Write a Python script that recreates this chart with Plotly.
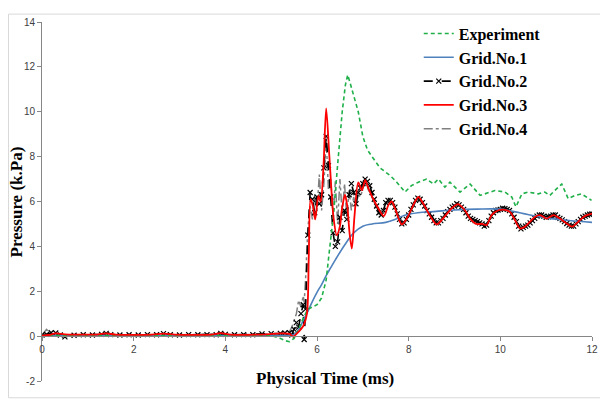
import plotly.graph_objects as go

# ---------------- data ----------------
t_exp = [0, 0.5, 1, 1.5, 2, 2.5, 3, 3.5, 4, 4.5, 5.0, 5.2, 5.3, 5.4, 5.5, 5.6, 5.7, 5.8, 5.9, 6.0,
         6.1, 6.2, 6.27, 6.36, 6.44, 6.55, 6.62, 6.67, 6.72, 6.8, 6.9, 7.0, 7.1, 7.2, 7.375, 7.6,
         7.74, 7.92, 8.06, 8.21, 8.39, 8.54, 8.65, 8.79, 8.9, 9.12, 9.34, 9.56, 9.67, 9.88, 10.1,
         10.25, 10.34, 10.47, 10.61, 10.83, 10.97, 11.08, 11.19, 11.34, 11.48, 11.63, 11.77, 11.99]
p_exp = [0.03, 0.03, 0.03, 0.03, 0.03, 0.03, 0.03, 0.03, 0.03, 0.03, 0.03, -0.1, -0.2, -0.25, -0.1,
         0.3, 0.8, 1.2, 1.3, 1.4, 1.7, 2.5, 3.8, 5.4, 7.4, 10.0, 11.2, 11.64, 11.3, 10.7, 10.0, 8.9,
         8.3, 8.0, 7.5, 7.15, 6.86, 6.42, 6.71, 6.86, 7.0, 6.78, 7.0, 6.64, 6.86, 6.42, 6.78, 6.27,
         6.34, 6.49, 6.42, 6.2, 5.76, 6.34, 6.42, 6.34, 6.42, 6.27, 6.49, 6.78, 6.13, 6.27, 6.34, 6.05]

t_g1 = [0, 1, 2, 3, 4, 5, 5.4, 5.5, 5.6, 5.7, 5.8, 5.9, 6.0, 6.1, 6.2, 6.3, 6.4, 6.6, 6.8, 7.0,
        7.2, 7.5, 7.7, 7.9, 8.2, 8.6, 9.0, 9.5, 10.0, 10.3, 10.6, 11.0, 11.5, 12.0]
p_g1 = [0.03, 0.03, 0.03, 0.03, 0.03, 0.03, 0.03, 0.08, 0.3, 0.7, 1.1, 1.55, 1.95, 2.3, 2.7, 3.05,
        3.4, 4.05, 4.6, 4.9, 5.0, 5.07, 5.2, 5.38, 5.5, 5.56, 5.62, 5.66, 5.66, 5.55, 5.42, 5.27,
        5.15, 5.07]

t_g2 = [0.0, 0.1, 0.2, 0.3, 0.4, 0.5, 0.7, 0.9, 1.1, 1.3, 1.4, 1.5, 1.7, 1.9, 2.1, 2.3, 2.5,
        2.65, 2.8, 3.0, 3.2, 3.4, 3.6, 3.8, 3.9, 4.0, 4.2, 4.4, 4.6, 4.8, 5.0, 5.2,
        5.3, 5.4, 5.45, 5.5, 5.55, 5.6, 5.65, 5.7, 5.72, 5.75, 5.8, 5.85, 5.9, 5.95, 6.0, 6.05,
        6.1, 6.15, 6.2, 6.25, 6.3, 6.35, 6.4, 6.45, 6.5, 6.55, 6.6, 6.65, 6.7, 6.75, 6.8, 6.85,
        6.9, 6.95, 7.0, 7.05, 7.1, 7.15, 7.2, 7.25, 7.3, 7.35, 7.4, 7.45, 7.5,
        7.55, 7.6, 7.65, 7.7, 7.75, 7.8, 7.85, 7.9, 7.95, 8.0, 8.05, 8.1, 8.15, 8.2, 8.25, 8.3,
        8.35, 8.4, 8.45, 8.5, 8.55, 8.6, 8.65, 8.7, 8.75, 8.8, 8.85, 8.9, 8.95, 9.0, 9.05, 9.1,
        9.15, 9.2, 9.25, 9.3, 9.35, 9.4, 9.45, 9.5, 9.55, 9.6, 9.65, 9.7, 9.75, 9.8, 9.85, 9.9,
        9.95, 10.0, 10.05, 10.1, 10.15, 10.2, 10.25, 10.3, 10.35, 10.4, 10.45, 10.5, 10.55, 10.6,
        10.65, 10.7, 10.75, 10.8, 10.85, 10.9, 10.95, 11.0, 11.05, 11.1, 11.15, 11.2, 11.25, 11.3,
        11.35, 11.4, 11.45, 11.5, 11.55, 11.6, 11.65, 11.7, 11.75, 11.8, 11.85, 11.9, 11.95, 12.0]
p_g2 = [0.05, 0.08, 0.15, 0.14, 0.05, -0.03, 0.04, 0.06, 0.05, 0.08, 0.12, 0.07, 0.05, 0.06,
        0.05, 0.07, 0.06, 0.11, 0.06, 0.05, 0.07, 0.06, 0.07, 0.06, 0.12, 0.08, 0.06, 0.07, 0.06,
        0.1, 0.11, 0.12,
        0.14, 0.15, 0.05, 0.3, 0.6, 0.4, 1.0, 1.4, -0.15, 1.2, 4.5, 6.4, 6.1, 5.5, 6.2, 5.9,
        6.3, 7.5, 8.9, 7.6, 6.2, 4.6, 4.0, 4.2, 5.3, 4.7, 5.6, 5.2, 6.3, 6.8, 6.4, 5.9,
        6.4, 6.6, 6.8, 7.0, 6.9, 6.7, 6.4, 6.1, 5.8, 5.5, 5.4, 5.6, 5.95,
        6.05, 6.05, 5.95, 5.75, 5.45, 5.2, 5.0, 5.05, 5.2, 5.4, 5.65, 5.85, 6.05, 6.15, 6.1, 5.95,
        5.8, 5.6, 5.45, 5.3, 5.15, 5.05, 5.05, 5.15, 5.25, 5.4, 5.55, 5.65, 5.75, 5.8, 5.9, 5.85,
        5.75, 5.65, 5.5, 5.35, 5.25, 5.2, 5.15, 5.1, 5.05, 5.0, 4.9, 4.95, 5.15, 5.35, 5.5, 5.6,
        5.62, 5.65, 5.7, 5.68, 5.65, 5.6, 5.45, 5.3, 5.1, 4.9, 4.78, 4.85, 4.9, 4.95,
        5.05, 5.15, 5.25, 5.35, 5.4, 5.4, 5.35, 5.3, 5.32, 5.35, 5.4, 5.4, 5.3, 5.25,
        5.18, 5.1, 5.02, 4.95, 4.9, 4.9, 5.0, 5.1, 5.2, 5.3, 5.35, 5.4, 5.43, 5.45]

t_g4 = [0.0, 0.1, 0.2, 0.3, 0.4, 0.5, 0.7, 0.9, 1.1, 1.3, 1.4, 1.5, 1.7, 1.9, 2.1, 2.3, 2.5,
        2.65, 2.8, 3.0, 3.2, 3.4, 3.6, 3.8, 3.9, 4.0, 4.2, 4.4, 4.6, 4.8, 5.0, 5.2,
        5.3, 5.4, 5.45, 5.5, 5.55, 5.6, 5.65, 5.7, 5.72, 5.75, 5.8, 5.85, 5.9, 5.95, 6.0, 6.05,
        6.1, 6.15, 6.2, 6.25, 6.3, 6.35, 6.4, 6.45, 6.5, 6.55, 6.6, 6.65, 6.7, 6.75, 6.8, 6.85,
        6.9, 6.95, 7.0, 7.05, 7.1, 7.15, 7.2, 7.25, 7.3, 7.35, 7.4, 7.45, 7.5,
        7.6, 7.7, 7.8, 7.9, 8.0, 8.1, 8.2, 8.3, 8.4, 8.5, 8.6, 8.7, 8.8, 8.9, 9.0, 9.1, 9.2,
        9.3, 9.4, 9.5, 9.6, 9.7, 9.8, 9.9, 10.0, 10.1, 10.2, 10.3, 10.4, 10.5, 10.6, 10.7,
        10.8, 10.9, 11.0, 11.1, 11.2, 11.3, 11.4, 11.5, 11.6, 11.7, 11.8, 11.9, 12.0]
p_g4 = [0.05, 0.3, 0.08, 0.1, 0.05, 0.04, 0.06, 0.07, 0.05, 0.07, 0.1, 0.06, 0.06, 0.05, 0.06,
        0.07, 0.05, 0.1, 0.06, 0.06, 0.07, 0.05, 0.06, 0.07, 0.1, 0.07, 0.06, 0.06, 0.07, 0.09,
        0.1, 0.12,
        0.1, 0.2, 0.4, 0.7, 1.0, 1.6, 1.3, 1.8, 1.5, 2.5, 4.8, 5.8, 5.2, 6.3, 5.6, 7.2,
        5.6, 6.8, 8.8, 6.5, 7.0, 5.3, 6.9, 5.0, 7.0, 5.4, 6.8, 5.3, 6.5, 5.6, 6.2, 5.8,
        6.3, 6.2, 6.6, 6.8, 6.6, 6.4, 6.2, 5.9, 5.7, 5.45, 5.4, 5.7, 5.9,
        6.0, 5.7, 5.25, 5.1, 5.35, 5.8, 6.1, 5.9, 5.55, 5.3, 5.1, 5.2, 5.45, 5.7, 5.8,
        5.8, 5.6, 5.3, 5.15, 5.05, 4.95, 5.0, 5.3, 5.55, 5.6, 5.65, 5.55, 5.25, 4.85, 4.9,
        5.0, 5.2, 5.35, 5.35, 5.3, 5.3, 5.35, 5.2, 5.05, 4.95, 4.95, 5.15, 5.3, 5.35, 5.45]

t_g3 = [0, 0.15, 0.3, 0.5, 0.8, 1.2, 1.4, 1.6, 2.0, 2.4, 2.65, 2.9, 3.3, 3.7, 3.9, 4.1, 4.5, 4.9,
        5.2, 5.4, 5.48, 5.6, 5.7, 5.78, 5.82, 5.86, 5.91, 5.96, 6.03, 6.08, 6.14, 6.2, 6.27, 6.36,
        6.43, 6.5, 6.54, 6.61, 6.66, 6.71, 6.76, 6.82, 6.9, 6.98, 7.05, 7.12, 7.23, 7.35, 7.46,
        7.56, 7.63, 7.7, 7.85, 7.96, 8.1, 8.21, 8.32, 8.46, 8.61, 8.76, 8.94, 9.08, 9.23, 9.34,
        9.48, 9.6, 9.7, 9.81, 9.96, 10.1, 10.21, 10.32, 10.43, 10.54, 10.65, 10.76, 10.87, 11.01,
        11.16, 11.3, 11.45, 11.57, 11.7, 11.85, 12.0]
p_g3 = [0.02, 0.05, 0.12, 0.08, 0.07, 0.07, 0.12, 0.07, 0.06, 0.07, 0.11, 0.07, 0.06, 0.07, 0.13,
        0.07, 0.06, 0.08, 0.12, 0.1, -0.02, 0.2, 0.45, 1.0, 3.5, 6.1, 5.8, 5.2, 6.25, 6.0, 7.5,
        10.15, 8.0, 5.3, 4.5, 4.9, 5.6, 6.3, 5.8, 4.6, 3.9, 5.4, 6.85, 6.5, 6.95, 6.6, 6.1, 5.65,
        5.35, 5.85, 6.0, 5.7, 4.98, 5.24, 5.83, 6.2, 5.9, 5.39, 4.98, 5.27, 5.7, 5.88, 5.6, 5.24,
        5.0, 5.0, 4.95, 5.39, 5.61, 5.63, 5.54, 5.17, 4.8, 4.88, 5.1, 5.32, 5.39, 5.24, 5.39,
        5.24, 5.02, 4.88, 5.1, 5.36, 5.46]

x_ticks = [0, 2, 4, 6, 8, 10, 12]
y_ticks = [-2, 0, 2, 4, 6, 8, 10, 12, 14]

serif = "Liberation Serif, Times New Roman, serif"
sans = "Liberation Sans, Arial, sans-serif"

fig = go.Figure()
fig.add_trace(go.Scatter(x=t_g4, y=p_g4, name="Grid.No.4", mode="lines", legendrank=5,
                         line=dict(color="#808080", width=1.5, dash="dashdot")))
fig.add_trace(go.Scatter(x=t_g2, y=p_g2, name="Grid.No.2", mode="lines+markers", legendrank=3,
                         line=dict(color="black", width=1.6, dash="dash"),
                         marker=dict(symbol="x-thin", size=5, line=dict(color="black", width=1.2))))
fig.add_trace(go.Scatter(x=t_g1, y=p_g1, name="Grid.No.1", mode="lines", legendrank=2,
                         line=dict(color="#4F81BD", width=1.6, shape="spline")))
fig.add_trace(go.Scatter(x=t_exp, y=p_exp, name="Experiment", mode="lines", legendrank=1,
                         line=dict(color="#1FB04A", width=1.6, dash="4px,3px")))
fig.add_trace(go.Scatter(x=t_g3, y=p_g3, name="Grid.No.3", mode="lines", legendrank=4,
                         line=dict(color="#FF0000", width=1.8, shape="spline", smoothing=0.8)))

fig.update_layout(
    width=600, height=392,
    margin=dict(l=34, r=16, t=9, b=19),
    paper_bgcolor="white", plot_bgcolor="white",
    showlegend=True,
    legend=dict(x=0.685, y=1.015, xanchor="left", yanchor="top", bgcolor="rgba(0,0,0,0)",
                font=dict(family=serif, size=16, color="black", weight="bold"), itemwidth=30,
                tracegroupgap=0, traceorder="normal"),
    xaxis=dict(range=[0, 12], tickvals=x_ticks, ticktext=[str(v) for v in x_ticks],
               anchor="free", position=0.125, showline=True, linecolor="#868686", linewidth=1,
               ticks="outside", ticklen=4, tickcolor="#868686", showgrid=False, zeroline=False,
               automargin=False,
               tickfont=dict(family=sans, size=10, color="#404040")),
    yaxis=dict(range=[-2, 14], tickvals=y_ticks, ticktext=[str(v) for v in y_ticks],
               domain=[0, 1], showline=True, linecolor="#868686", linewidth=1,
               ticks="outside", ticklen=4, tickcolor="#868686", showgrid=False, zeroline=False,
               automargin=False,
               tickfont=dict(family=sans, size=10, color="#404040")),
    annotations=[
        dict(text="<b>Physical Time (ms)</b>", xref="paper", yref="paper",
             x=0.515, y=0.008, xanchor="center", yanchor="middle", showarrow=False,
             font=dict(family=serif, size=17, color="black")),
        dict(text="<b>Pressure (k.Pa)</b>", xref="paper", yref="paper", textangle=-90,
             x=-0.0455, y=0.50, xanchor="center", yanchor="middle", showarrow=False,
             font=dict(family=serif, size=17, color="black")),
    ],
    shapes=[dict(type="rect", xref="paper", yref="paper", x0=-0.0609, x1=1.0236, y0=-0.0467, y1=1.022,
                 line=dict(color="#D9D9D9", width=1), fillcolor="rgba(0,0,0,0)", layer="below")],
)

fig.write_html("out.html")
